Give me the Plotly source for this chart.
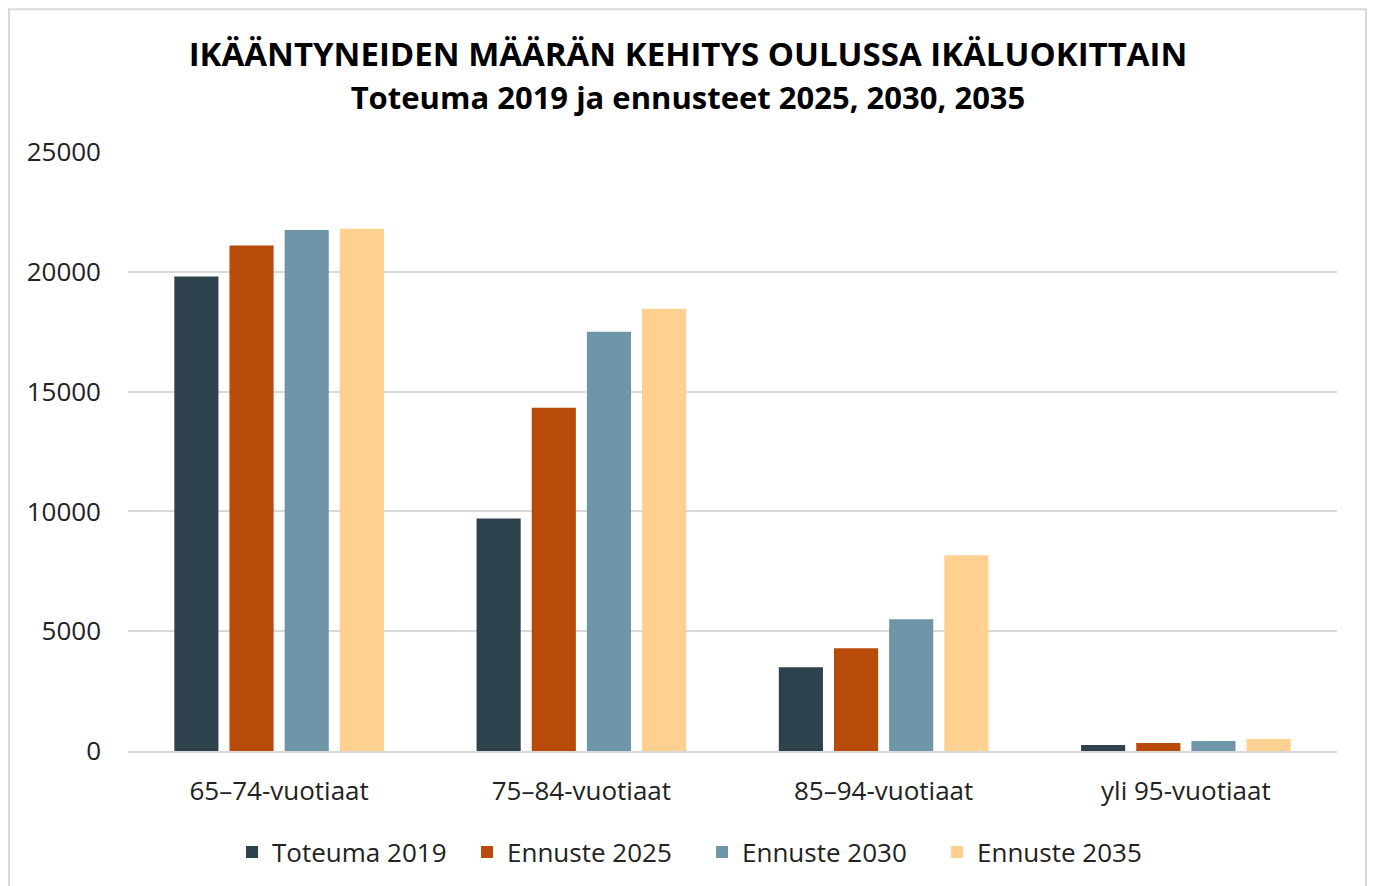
import plotly.graph_objects as go

categories = ["65–74-vuotiaat", "75–84-vuotiaat", "85–94-vuotiaat", "yli 95-vuotiaat"]
series_names = ["Toteuma 2019", "Ennuste 2025", "Ennuste 2030", "Ennuste 2035"]
toteuma_2019 = [19800, 9700, 3500, 250]
ennuste_2025 = [21100, 14330, 4290, 330]
ennuste_2030 = [21740, 17500, 5500, 420]
ennuste_2035 = [21800, 18460, 8170, 500]
colors = ["#2E424D", "#B84A0A", "#6E95A8", "#FFD08F"]

values = [toteuma_2019, ennuste_2025, ennuste_2030, ennuste_2035]

fig = go.Figure()
for name, vals, col in zip(series_names, values, colors):
    fig.add_trace(go.Bar(x=categories, y=vals, name=name, marker_color=col,
                         marker_line_width=0))

# page has an 8px body margin; figure coordinates = page coordinates - 8
OFF = 8
W, H = 1359, 878
L, R, T, B = 120, 30, 144, 134
pw, ph = W - L - R, H - T - B

def px_x(px):
    return (px - OFF - L) / pw

def px_y(py):
    return (H - B - (py - OFF)) / ph

fig.update_layout(
    width=W, height=H,
    margin=dict(l=L, r=R, t=T, b=B),
    paper_bgcolor="white", plot_bgcolor="white",
    barmode="group", bargap=0.27, bargroupgap=0.2,
    font=dict(family="Open Sans", size=26, color="#222222"),
    title=dict(
        text="<b>IKÄÄNTYNEIDEN MÄÄRÄN KEHITYS OULUSSA IKÄLUOKITTAIN</b><br><span style='font-size:31px'><b>Toteuma 2019 ja ennusteet 2025, 2030, 2035</b></span>",
        x=px_x(688), xanchor="center", xref="paper", y=1 - (66 - OFF) / H, yanchor="middle",
        font=dict(family="Open Sans", size=33, color="black", weight=800),
    ),
    legend=dict(orientation="h", x=px_x(232), xanchor="left", y=px_y(852), yanchor="middle",
                font=dict(size=26, color="#222222"), itemwidth=30, traceorder="normal",
                entrywidth=190, entrywidthmode="pixels"),
    xaxis=dict(showgrid=False, showline=True, linecolor="#d9d9d9", linewidth=2,
               ticks="", ticklabelstandoff=16, tickfont=dict(size=26)),
    yaxis=dict(range=[0, 25000], dtick=5000, showgrid=True, gridcolor="#d9d9d9",
               gridwidth=2, zeroline=False, ticks="", tickformat="d",
               ticklabelstandoff=26, tickfont=dict(size=26)),
    shapes=[dict(type="rect", xref="paper", yref="paper",
                 x0=px_x(9), x1=px_x(1366), y0=px_y(900), y1=px_y(9),
                 line=dict(color="#d9d9d9", width=2), fillcolor="rgba(0,0,0,0)", layer="below")],
)

fig.write_html("out.html")
